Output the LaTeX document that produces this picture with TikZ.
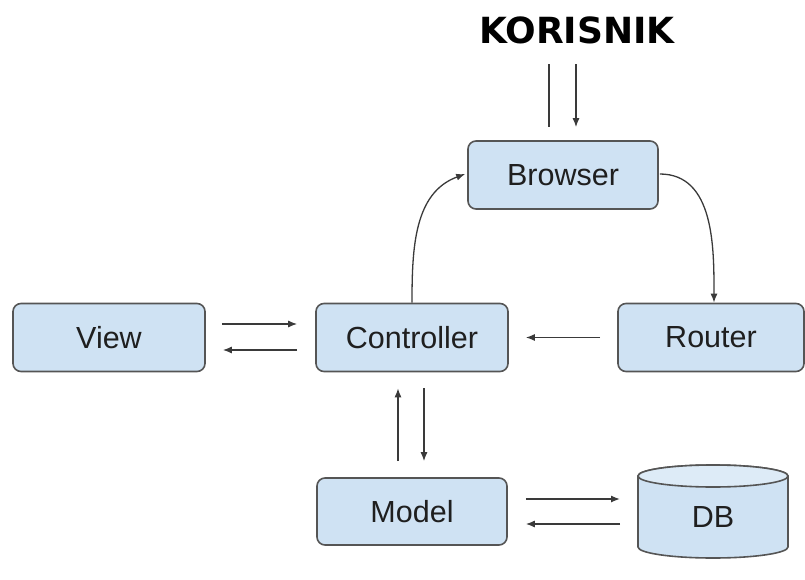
\documentclass[tikz,border=0pt]{standalone}
\usepackage{fontspec}
\setmainfont{Liberation Sans}
\newfontfamily\korfont{DejaVu Sans}
\usetikzlibrary{calc,arrows.meta}
\definecolor{boxfill}{HTML}{CFE2F3}
\definecolor{boxdraw}{HTML}{555555}
\definecolor{linecol}{HTML}{3A3A3A}
\tikzset{
  box/.style={draw=boxdraw, fill=boxfill, line width=1.6pt, rounded corners=8pt,
    minimum width=#1, minimum height=68pt, inner sep=0pt, font=\fontsize{30.5}{30}\selectfont, text=black!88},
  conn/.style={draw=linecol, line width=1.3pt},
  arr/.style={conn, -{Latex[length=9pt,width=7pt]}},
}
\begin{document}
\begin{tikzpicture}[x=1pt,y=1pt]
\useasboundingbox (0,0) rectangle (805,579);
\node[font=\korfont\bfseries\fontsize{36}{36}\selectfont] (K) at (577,549) {KORISNIK};
\node[box=190pt] (Browser) at (563,404) {Browser};
\node[box=192pt] (View) at (109,241.5) {View};
\node[box=192pt] (Ctrl) at (412,241.5) {Controller};
\node[box=186pt] (Router) at (711,241.5) {Router};
\node[box=190pt, minimum height=67pt] (Model) at (412,67.5) {Model};
% DB cylinder
\draw[draw=boxdraw, fill=boxfill, line width=1.6pt]
  (638,103) -- (638,32) arc[start angle=180, end angle=360, x radius=75, y radius=11]
  -- (788,103) arc[start angle=0, end angle=180, x radius=75, y radius=11] -- cycle;
\draw[draw=boxdraw, fill=boxfill!70!white, line width=1.6pt] (713,103) ellipse[x radius=75, y radius=11];
\node[font=\fontsize{30.5}{30}\selectfont, text=black!88] (DB) at (713,62) {DB};
\coordinate (DBw) at (638,67.5);
% user arrows
\draw[conn] ($(Browser.north)+(-14,76)$) -- ($(Browser.north)+(-14,13)$);
\draw[arr] ($(Browser.north)+(13,76)$) -- ($(Browser.north)+(13,13)$);
% view - controller
\draw[arr] ($(View.east)+(16,13.5)$) -- ($(Ctrl.west)+(-18,13.5)$);
\draw[arr] ($(Ctrl.west)+(-18,-12.5)$) -- ($(View.east)+(17,-12.5)$);
% router -> controller
\draw[arr] ($(Router.west)+(-17,0)$) -- ($(Ctrl.east)+(17,0)$);
% controller - model
\draw[arr] ($(Model.north)+(-14,16)$) -- ($(Ctrl.south)+(-14,-16)$);
\draw[arr] ($(Ctrl.south)+(12,-16)$) -- ($(Model.north)+(12,16)$);
% model - db
\draw[arr] ($(Model.east)+(18,12.5)$) -- ($(DBw)+(-18,12.5)$);
\draw[arr] ($(DBw)+(-18,-12.5)$) -- ($(Model.east)+(18,-12.5)$);
% curves
\draw[arr] (Ctrl.north) to[out=90, in=200] ($(Browser.west)+(-2,1)$);
\draw[arr] ($(Browser.east)+(1,1)$) to[out=0, in=90] ($(Router.north)+(3,0)$);
\end{tikzpicture}
\end{document}
